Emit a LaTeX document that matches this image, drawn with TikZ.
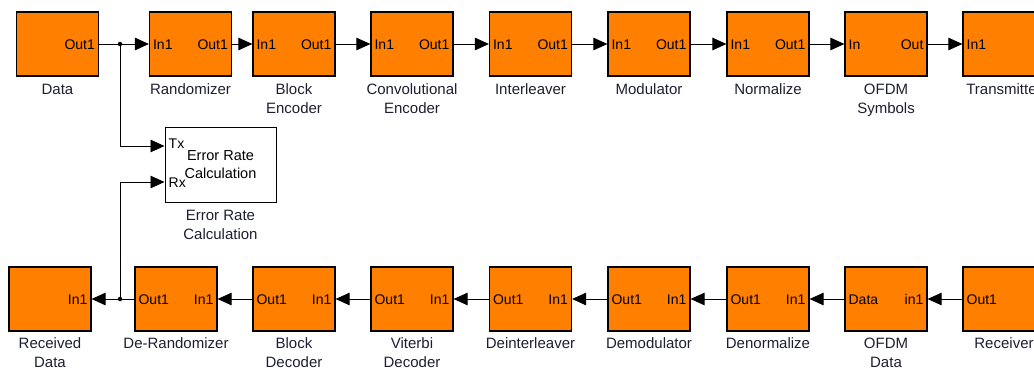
\documentclass[tikz,border=0pt]{standalone}
\usepackage{fontspec}
\setmainfont{Liberation Sans}
\usetikzlibrary{arrows.meta,positioning,calc}
\definecolor{simorange}{RGB}{255,128,0}
\definecolor{labelink}{RGB}{30,30,50}
\tikzset{
    block/.style={draw=black,fill=simorange,line width=1.2pt,minimum width=82pt,minimum height=64pt,inner sep=0pt},
    errbox/.style={draw=black,fill=white,line width=1pt,minimum width=111pt,minimum height=75pt,inner sep=0pt,align=center,font=\fontsize{14.5}{18}\selectfont},
    lport/.style={anchor=west,inner sep=0pt,xshift=4pt,text height=10pt,text depth=0pt,font=\fontsize{14}{16}\selectfont},
    rport/.style={anchor=east,inner sep=0pt,xshift=-4pt,text height=10pt,text depth=0pt,font=\fontsize{14}{16}\selectfont},
    caption/.style={align=center,inner sep=0pt,text=labelink,font=\fontsize{15}{19}\selectfont},
    arrow/.style={-{Triangle[length=14pt,width=12.5pt]},line width=0.9pt},
    wire/.style={line width=0.9pt},
    junction/.style={circle,fill=black,inner sep=0pt,minimum size=4.5pt}
}
\begin{document}
\begin{tikzpicture}[x=1pt,y=-1pt]
    \useasboundingbox (0,0) rectangle (1034,370);
    \clip (0,0) rectangle (1034,370);
    % transmit chain
    \foreach \n/\x/\lbl/\pw/\pe in {
        data/57.5/Data//Out1,
        rand/190.5/Randomizer/In1/Out1,
        benc/294/{Block\\Encoder}/In1/Out1,
        cenc/412/{Convolutional\\Encoder}/In1/Out1,
        intl/530.5/Interleaver/In1/Out1,
        mod/649/Modulator/In1/Out1,
        norm/768/Normalize/In1/Out1,
        ofdms/886/{OFDM\\Symbols}/In/Out,
        tx/1004/Transmitter/In1/}{
        \node[block] (\n) at (\x,44) {};
        \node[lport] (\n-w) at (\n.west) {\pw};
        \node[rport] (\n-e) at (\n.east) {\pe};
        \node[caption,below=7pt of \n] (\n-lbl) {\lbl};
    }
    % receive chain
    \foreach \n/\x/\lbl/\pw/\pe in {
        rdata/50/{Received\\Data}//In1,
        derand/176/De-Randomizer/Out1/In1,
        bdec/294/{Block\\Decoder}/Out1/In1,
        vit/412/{Viterbi\\Decoder}/Out1/In1,
        dint/530.5/Deinterleaver/Out1/In1,
        demod/649/Demodulator/Out1/In1,
        denorm/768/Denormalize/Out1/In1,
        ofdmd/886/{OFDM\\Data}/Data/in1,
        rx/1004/Receiver/Out1/}{
        \node[block] (\n) at (\x,299) {};
        \node[lport] (\n-w) at (\n.west) {\pw};
        \node[rport] (\n-e) at (\n.east) {\pe};
        \node[caption,below=6pt of \n] (\n-lbl) {\lbl};
    }
    \foreach \a/\b in {rand/benc,benc/cenc,cenc/intl,intl/mod,mod/norm,norm/ofdms,ofdms/tx}
        \draw[arrow] (\a.east) -- (\b.west);
    \foreach \a/\b in {rx/ofdmd,ofdmd/denorm,denorm/demod,demod/dint,dint/vit,vit/bdec,bdec/derand}
        \draw[arrow] (\a.west) -- (\b.east);

    % error rate block
    \node[errbox] (err) at (220.5,164.5) {Error Rate\\Calculation};
    \coordinate (errtx) at ($(err.west)+(0,-18.5)$);
    \coordinate (errrx) at ($(err.west)+(0,17.5)$);
    \node[lport] (err-tx) at ($(errtx)+(0,-3)$) {Tx};
    \node[lport] (err-rx) at (errrx) {Rx};
    \node[caption,below=7pt of err] (err-lbl) {Error Rate\\Calculation};

    \node[junction] (jtop) at (120,44) {};
    \node[junction] (jbot) at (120,299) {};
    \draw[wire] (data.east) -- (jtop);
    \draw[arrow] (jtop) -- (rand.west);
    \draw[arrow] (jtop) |- (errtx);
    \draw[wire] (derand.west) -- (jbot);
    \draw[arrow] (jbot) -- (rdata.east);
    \draw[arrow] (jbot) |- (errrx);
\end{tikzpicture}
\end{document}
